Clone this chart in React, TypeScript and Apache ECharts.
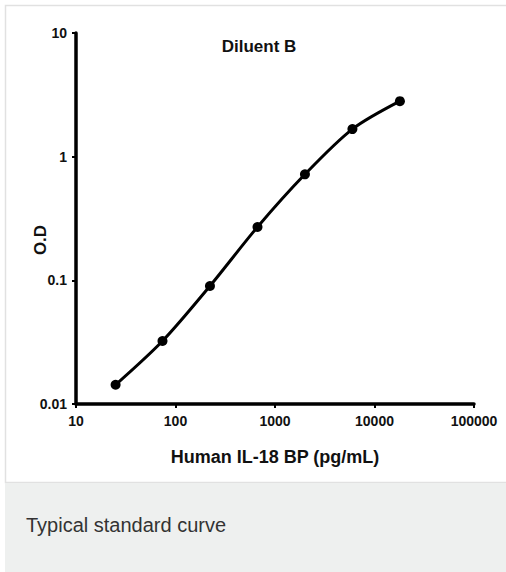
import React, { useEffect, useRef } from "react";
import * as echarts from "echarts";

const concentrations = [25, 74, 222, 667, 2000, 6000, 18000];
const odValues = [0.0143, 0.0323, 0.09, 0.27, 0.72, 1.67, 2.81];
const xTicks = [10, 100, 1000, 10000, 100000];
const yTicks = [0.01, 0.1, 1, 10];
const titleText = "Diluent B";
const xName = "Human IL-18 BP (pg/mL)";
const yName = "O.D";
const caption = "Typical standard curve";

const SANS = '"Liberation Sans", Arial, sans-serif';

const fmt = (v: number) => String(Number(v.toPrecision(6)));

export default function App() {
  const ref = useRef<HTMLDivElement>(null);
  useEffect(() => {
    if (!ref.current) return;
    const chart = echarts.init(ref.current, undefined, { renderer: "svg" });
    chart.setOption({
      animation: false,
      backgroundColor: "#ffffff",
      grid: { left: 76, top: 33, right: 32, bottom: 168 },
      graphic: [
        {
          type: "rect",
          z: -10,
          shape: { x: 5.5, y: 5.5, width: 520, height: 477 },
          style: { fill: "#ffffff", stroke: "#e1e1e1", lineWidth: 1.5 },
        },
        {
          type: "rect",
          z: -10,
          shape: { x: 5, y: 483, width: 520, height: 100 },
          style: { fill: "#eef0ef" },
        },
        {
          type: "text",
          z: 10,
          x: 26,
          y: 525,
          style: {
            text: caption,
            fontFamily: SANS,
            fontSize: 20,
            fill: "#333333",
            verticalAlign: "middle",
            align: "left",
          },
        },
        {
          type: "text",
          z: 10,
          x: 259,
          y: 46,
          style: {
            text: titleText,
            fontFamily: SANS,
            fontWeight: "bold",
            fontSize: 17,
            fill: "#111111",
            align: "center",
            verticalAlign: "middle",
          },
        },
        {
          type: "text",
          z: 10,
          x: 40,
          y: 240,
          rotation: Math.PI / 2,
          style: {
            text: yName,
            fontFamily: SANS,
            fontWeight: "bold",
            fontSize: 17,
            fill: "#111111",
            align: "center",
            verticalAlign: "middle",
          },
        },
      ],
      xAxis: {
        type: "log",
        logBase: 10,
        min: xTicks[0],
        max: xTicks[xTicks.length - 1],
        name: xName,
        nameLocation: "middle",
        nameGap: 44,
        nameTextStyle: {
          fontFamily: SANS,
          fontWeight: "bold",
          fontSize: 18,
          color: "#111111",
        },
        axisLine: { lineStyle: { color: "#000000", width: 3.5 } },
        axisTick: { show: true, length: 4, lineStyle: { color: "#000000", width: 2 } },
        axisLabel: {
          margin: 10,
          fontFamily: SANS,
          fontWeight: "bold",
          fontSize: 14,
          color: "#111111",
          formatter: (v: number) => fmt(v),
        },
        splitLine: { show: false },
      },
      yAxis: {
        type: "log",
        logBase: 10,
        min: yTicks[0],
        max: yTicks[yTicks.length - 1],
        axisLine: { lineStyle: { color: "#000000", width: 3.5 } },
        axisTick: { show: true, length: 4, lineStyle: { color: "#000000", width: 2 } },
        axisLabel: {
          margin: 9,
          fontFamily: SANS,
          fontWeight: "bold",
          fontSize: 14,
          color: "#111111",
          formatter: (v: number) => fmt(v),
        },
        splitLine: { show: false },
      },
      series: [
        {
          type: "line",
          data: concentrations.map((c, i) => [c, odValues[i]]),
          smooth: 0.3,
          symbol: "circle",
          symbolSize: 10,
          itemStyle: { color: "#000000" },
          lineStyle: { color: "#000000", width: 3 },
        },
      ],
    });
    return () => chart.dispose();
  }, []);
  return (
    <div
      ref={ref}
      style={{ position: "absolute", left: 0, top: 0, width: 506, height: 572 }}
    />
  );
}
